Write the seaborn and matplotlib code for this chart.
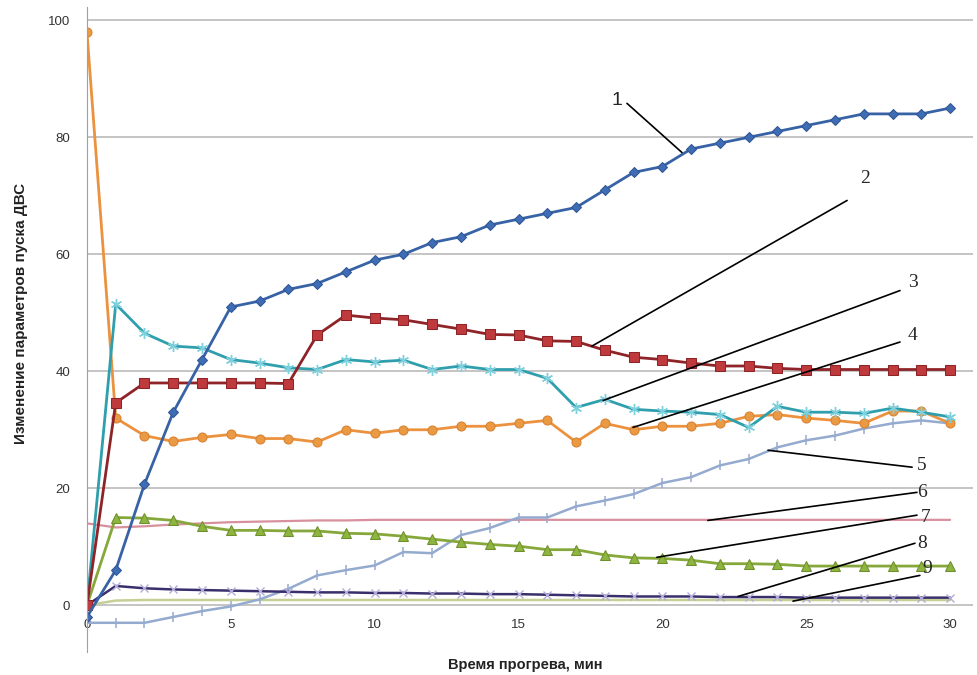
import numpy as np
import pandas as pd
import matplotlib
matplotlib.use('Agg')
import matplotlib.pyplot as plt
import seaborn as sns

minutes = list(range(0, 31))

# 1 - blue diamonds
s1 = [-2, 6, 20.7, 33, 42, 51, 52, 54, 55, 57, 59, 60, 62, 63, 65, 66,
      67, 68, 71, 74, 75, 78, 79, 80, 81, 82, 83, 84, 84, 84, 85]
# 2 - dark red squares
s2 = [0, 34.6, 38, 38, 38, 38, 38, 37.9, 46.2, 49.6, 49.1, 48.8, 48, 47.2, 46.3, 46.2,
      45.2, 45.1, 43.6, 42.4, 42, 41.4, 40.9, 40.9, 40.5, 40.3, 40.3, 40.3, 40.3, 40.3, 40.3]
# 3 - teal asterisks
s3 = [0, 51.5, 46.5, 44.3, 44, 42, 41.4, 40.6, 40.3, 42, 41.6, 41.9, 40.3, 40.9, 40.3, 40.3,
      38.8, 33.8, 35.2, 33.5, 33.2, 33, 32.6, 30.4, 34, 33, 33, 32.8, 33.7, 33, 32.2]
# 4 - orange circles
s4 = [98, 32, 29, 28, 28.7, 29.2, 28.5, 28.5, 27.9, 30, 29.4, 30, 30, 30.6, 30.6, 31.1,
      31.6, 27.9, 31.1, 30, 30.6, 30.6, 31.1, 32.3, 32.6, 32, 31.6, 31.1, 33.2, 33.2, 31.1]
# 5 - light steel blue
s5 = [-3, -3, -3, -2, -1, -0.2, 1, 2.8, 5.1, 6, 6.8, 9.1, 8.9, 12, 13.2, 15,
      15, 16.9, 17.9, 19, 20.9, 21.9, 23.9, 25, 27, 28.2, 29, 30.2, 31.1, 31.6, 31.1]
# 6 - rose line
s6 = [14, 13.3, 13.5, 13.8, 14, 14.2, 14.3, 14.4, 14.5, 14.5, 14.6, 14.6, 14.6, 14.6, 14.6, 14.6,
      14.6, 14.6, 14.6, 14.6, 14.6, 14.6, 14.6, 14.6, 14.6, 14.6, 14.6, 14.6, 14.6, 14.6, 14.6]
# 7 - green triangles
s7 = [0, 15, 14.9, 14.5, 13.5, 12.8, 12.8, 12.7, 12.7, 12.3, 12.2, 11.8, 11.3, 10.8, 10.4, 10.1,
      9.5, 9.5, 8.6, 8.1, 8, 7.7, 7.1, 7.1, 7, 6.7, 6.7, 6.7, 6.7, 6.7, 6.7]
# 8 - dark purple, x markers
s8 = [0, 3.3, 2.9, 2.7, 2.6, 2.5, 2.4, 2.3, 2.2, 2.2, 2.1, 2.1, 2.0, 2.0, 1.9, 1.9,
      1.8, 1.7, 1.6, 1.5, 1.5, 1.5, 1.4, 1.4, 1.4, 1.3, 1.3, 1.3, 1.3, 1.3, 1.3]
# 9 - olive line
s9 = [0, 0.8, 0.9, 0.9, 0.9, 0.9, 0.9, 0.9, 0.9, 0.9, 0.9, 0.9, 0.9, 0.9, 0.9, 0.9,
      0.9, 0.9, 0.9, 0.9, 0.9, 0.9, 0.9, 0.9, 0.9, 0.9, 0.9, 0.9, 0.9, 0.9, 0.9]

x_ticks = [0, 5, 10, 15, 20, 25, 30]
y_ticks = [0, 20, 40, 60, 80, 100]

# callout labels: text, text pos, line start, line end (data units)
callouts = [
    ('1', (18.42, 86.3), (18.77, 85.8), (20.68, 77.4)),
    ('2', (27.04, 73.0), (26.42, 69.2), (17.55, 44.3)),
    ('3', (28.71, 55.2), (28.26, 53.8), (17.94, 35.0)),
    ('4', (28.71, 46.2), (28.26, 45.0), (18.98, 30.4)),
    ('5', (29.02, 23.9), (28.68, 23.6), (23.67, 26.5)),
    ('6', (29.02, 19.3), (28.85, 19.3), (21.58, 14.5)),
    ('7', (29.16, 15.0), (28.85, 15.4), (19.81, 8.2)),
    ('8', (29.02, 10.6), (28.78, 10.6), (22.63, 1.5)),
    ('9', (29.20, 6.3), (28.95, 5.1), (24.54, 0.7)),
]

sns.set_style('white')
plt.rcParams['font.family'] = ['Liberation Sans', 'DejaVu Sans']

fig = plt.figure(figsize=(9.77, 6.75), dpi=100)
ax = fig.add_axes([0.089, 0.034, 0.907, 0.955])

for yv in y_ticks:
    ax.axhline(yv, color='#b4b4b4', lw=1.1, zorder=0)

styles = [
    (s6, dict(color='#d8909c', lw=1.6)),
    (s9, dict(color='#c6cf95', lw=1.8)),
    (s5, dict(color='#95aacf', lw=1.8, marker='|', markersize=7, markeredgecolor='#95aacf', markeredgewidth=1.1)),
    (s8, dict(color='#3a2f6c', lw=1.8, marker='x', markersize=6, markeredgecolor='#b3acd8', markeredgewidth=1.0)),
    (s7, dict(color='#86a83a', lw=2.0, marker='^', markersize=6.5, markerfacecolor='#8db53f', markeredgecolor='#6f8f2c')),
    (s4, dict(color='#ec923f', lw=2.0, marker='o', markersize=6.5, markerfacecolor='#eb9a44', markeredgecolor='#d88030')),
    (s3, dict(color='#2f9fad', lw=2.0, marker=(6, 2, 0), markersize=8, markeredgecolor='#7fd0dd', markeredgewidth=1.0)),
    (s2, dict(color='#8e2328', lw=2.0, marker='s', markersize=6.5, markerfacecolor='#be3a3c', markeredgecolor='#8e2328')),
    (s1, dict(color='#3862a6', lw=2.0, marker='D', markersize=5, markerfacecolor='#3f6db5', markeredgecolor='#2f5594')),
]
for vals, kw in styles:
    sns.lineplot(x=minutes, y=vals, ax=ax, **kw)

ax.set_xlim(0, 30.8)
ax.set_ylim(-8, 102.2)
ax.set_xticks(x_ticks)
ax.set_yticks(y_ticks)
ax.tick_params(axis='both', length=0, labelsize=9.5, colors='#333333')
ax.tick_params(axis='x', pad=10)
ax.tick_params(axis='y', pad=12)
for side in ['top', 'right']:
    ax.spines[side].set_visible(False)
ax.spines['left'].set_color('#a0a0a0')
ax.spines['bottom'].set_position(('data', 0))
ax.spines['bottom'].set_visible(False)
ax.set_xlabel('')
ax.set_ylabel('')

for txt, tpos, p0, p1 in callouts:
    ax.plot([p0[0], p1[0]], [p0[1], p1[1]], color='black', lw=1.2, zorder=6)
    fam = 'Liberation Sans' if txt == '1' else 'Liberation Serif'
    ax.text(tpos[0], tpos[1], txt, fontsize=14, fontfamily=fam, ha='center', va='center', zorder=7)

fig.text(0.538, 0.015, 'Время прогрева, мин', ha='center', va='center',
         fontsize=10.5, fontweight='bold', color='#222222')
fig.text(0.021, 0.535, 'Изменение параметров пуска ДВС', ha='center', va='center',
         rotation=90, fontsize=11, fontweight='bold', color='#222222')

fig.savefig('out.png', dpi=100)
